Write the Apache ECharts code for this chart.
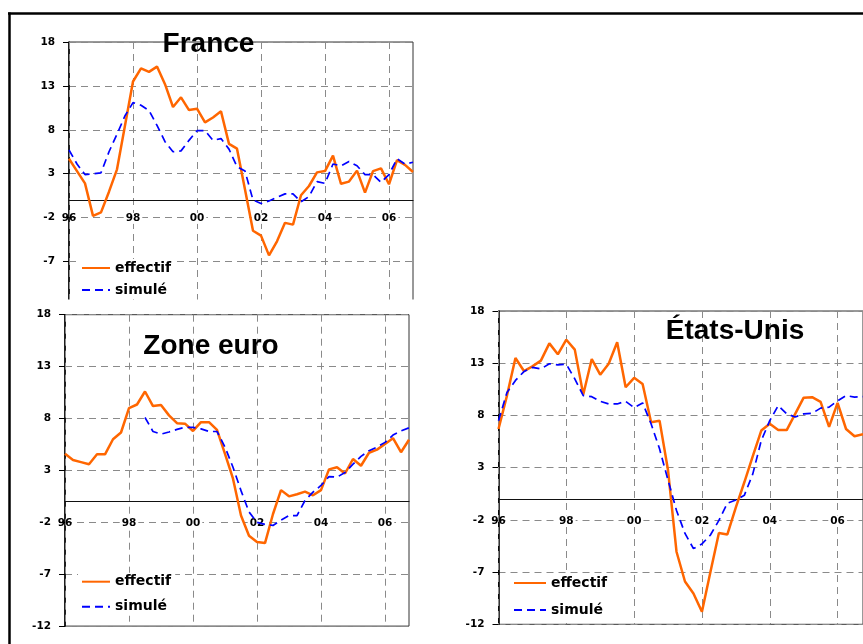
<!DOCTYPE html>
<html>
<head>
<meta charset="utf-8">
<title>Effectif et simulé</title>
<script src="https://cdn.jsdelivr.net/npm/echarts@6/dist/echarts.min.js"></script>
<style>
  html, body { margin: 0; padding: 0; background: #fff; }
  #chart { width: 863px; height: 644px; }
</style>
</head>
<body>
<div id="chart"></div>
<script>
// Quarterly categories, 1996 T1 .. 2006 T4
const years = [1996, 1997, 1998, 1999, 2000, 2001, 2002, 2003, 2004, 2005, 2006];
const quarters = [];
years.forEach(y => { for (let q = 1; q <= 4; q++) quarters.push(y + ' T' + q); });

// Year labels shown every 8 quarters
const yearTicks = ['96', '98', '00', '02', '04', '06'];

// France
const franceEffectif = [4.7, 3.3, 1.9, -1.8, -1.4, 0.95, 3.5, 8.5, 13.5, 15.0, 14.6, 15.2,
  13.2, 10.6, 11.7, 10.25, 10.4, 8.85, 9.4, 10.1, 6.4, 5.85, 1.2, -3.5,
  -4.05, -6.3, -4.7, -2.6, -2.8, 0.55, 1.6, 3.15, 3.3, 5.05, 1.85, 2.1,
  3.35, 0.85, 3.3, 3.6, 1.8, 4.55, 4.0, 3.2];
const franceSimule = [5.7, 4.1, 2.9, 3.0, 3.1, 5.5, 7.5, 9.6, 11.1, 10.8, 10.2, 8.5,
  6.65, 5.5, 5.6, 6.8, 7.9, 7.9, 6.8, 7.0, 5.8, 3.8, 3.3, 0.0,
  -0.4, -0.1, 0.3, 0.7, 0.7, -0.2, 0.4, 2.1, 1.9, 4.1, 3.9, 4.4,
  3.9, 2.9, 2.9, 2.0, 2.9, 4.7, 4.1, 4.3];

// Zone euro
const euroEffectif = [4.6, 4.0, 3.8, 3.6, 4.55, 4.55, 6.0, 6.65, 9.0, 9.35, 10.6, 9.2,
  9.3, 8.3, 7.55, 7.5, 6.8, 7.65, 7.65, 6.9, 4.6, 2.2, -1.35, -3.3,
  -3.9, -4.0, -1.2, 1.1, 0.5, 0.7, 0.95, 0.6, 1.1, 3.1, 3.3, 2.7,
  4.1, 3.45, 4.7, 5.0, 5.55, 6.1, 4.75, 5.95];
const euroSimule = [null, null, null, null, null, null, null, null, null, null, 8.1, 6.75,
  6.5, 6.7, 6.95, 7.15, 7.15, 7.0, 6.75, 6.75, 5.25, 3.3, 1.05, -1.0,
  -2.0, -2.2, -2.3, -1.8, -1.35, -1.35, 0.1, 0.9, 1.55, 2.4, 2.35, 2.8,
  3.6, 4.35, 4.9, 5.25, 5.7, 6.4, 6.8, 7.1];

// États-Unis
const usEffectif = [6.7, 9.9, 13.5, 12.25, 12.7, 13.25, 14.9, 13.85, 15.25, 14.3, 10.0, 13.4,
  11.9, 12.95, 15.0, 10.7, 11.6, 11.0, 7.35, 7.5, 2.75, -5.05, -7.9, -9.05,
  -10.8, -7.0, -3.25, -3.4, -0.8, 1.6, 4.1, 6.55, 7.2, 6.6, 6.6, 8.15,
  9.7, 9.75, 9.3, 6.9, 9.2, 6.7, 6.0, 6.2];
const usSimule = [7.5, 10.2, 11.35, 12.2, 12.6, 12.45, 12.95, 12.85, 12.9, 11.5, 9.9, 9.8,
  9.35, 9.1, 9.1, 9.35, 8.75, 9.2, 7.2, 4.8, 1.8, -1.1, -3.3, -4.75,
  -4.3, -3.45, -2.05, -0.4, -0.1, 0.35, 2.4, 5.6, 7.5, 8.95, 8.15, 7.85,
  8.15, 8.2, 8.7, 8.8, 9.4, 9.9, 9.75, 9.8];

// Y scale ticks
const yMin = -12, yMax = 18, yStep = 5;

// Year labels sit on the -2 row: margin is counted from the lower plot edge
const panels = [
  { title: 'France', eff: franceEffectif, sim: franceSimule,
    grid: { left: 69, top: 42, width: 344, height: 263.4 }, xMargin: -92.5,
    titlePos: [208.5, 44], legend: { left: 78, top: 259, gap: 8, w: 28 }, hideMin: true },
  { title: 'Zone euro', eff: euroEffectif, sim: euroSimule,
    grid: { left: 65, top: 314.7, width: 344, height: 311.4 }, xMargin: -108.5,
    titlePos: [211, 346], legend: { left: 78, top: 572.7, gap: 11, w: 28 }, hideMin: false },
  { title: 'États-Unis', eff: usEffectif, sim: usSimule,
    grid: { left: 498.5, top: 311, width: 375, height: 313.3 }, xMargin: -109,
    titlePos: [735, 331], legend: { left: 510, top: 574, gap: 13, w: 32 }, hideMin: false }
];

const tickFont = { fontFamily: 'DejaVu Sans', fontWeight: 'bold', fontSize: 10.5, color: '#000' };
const gridLine = { type: [7, 5], color: '#8a8a8a', width: 1 };

const option = {
  animation: false,
  backgroundColor: '#fff',
  grid: panels.map(p => Object.assign({ show: true, borderColor: '#333', borderWidth: 1 }, p.grid)),
  xAxis: panels.map((p, i) => ({
    type: 'category', gridIndex: i, data: quarters, boundaryGap: false,
    z: 1,
    axisLine: { onZero: true, lineStyle: { color: '#111', width: 1.2 } },
    axisTick: { show: false },
    axisLabel: {
      interval: 7, margin: p.xMargin,
      formatter: (v, idx) => {
        const t = yearTicks[Math.round(idx / 8)];
        return idx === 0 ? '{a|' + t + '}' : '{b|' + t + '}';
      },
      rich: {
        a: Object.assign({}, tickFont),
        b: Object.assign({ backgroundColor: '#fff', padding: [0, 2] }, tickFont)
      }
    },
    splitLine: { show: true, interval: 7, lineStyle: gridLine }
  })),
  yAxis: panels.map((p, i) => ({
    type: 'value', gridIndex: i, min: yMin, max: yMax, interval: yStep,
    axisLine: { show: true, lineStyle: { color: '#000', width: 1.6 } },
    axisTick: { show: true, length: 6, lineStyle: { color: '#000' } },
    axisLabel: Object.assign({ margin: 14, showMinLabel: !p.hideMin }, tickFont),
    splitLine: { show: true, lineStyle: gridLine }
  })),
  legend: panels.map(p => ({
    data: ['effectif', 'simulé'], orient: 'vertical',
    left: p.legend.left, top: p.legend.top,
    itemWidth: p.legend.w, itemHeight: 14, itemGap: p.legend.gap,
    backgroundColor: '#fff', padding: [2, 4, 2, 3],
    selectedMode: false,
    itemStyle: { opacity: 0 },
    textStyle: { fontFamily: 'DejaVu Sans', fontWeight: 'bold', fontSize: 14, color: '#000' }
  })),
  series: panels.flatMap((p, i) => [
    { type: 'line', name: 'effectif', xAxisIndex: i, yAxisIndex: i, data: p.eff,
      symbol: 'none', z: 3,
      lineStyle: { color: '#FF6600', width: 2.5 }, itemStyle: { color: '#FF6600' } },
    { type: 'line', name: 'simulé', xAxisIndex: i, yAxisIndex: i, data: p.sim,
      symbol: 'none', z: 4, connectNulls: false,
      lineStyle: { color: '#0000FF', width: 1.7, type: [8, 5] }, itemStyle: { color: '#0000FF' } }
  ]),
  graphic: [
    // outer frame (top and left edges)
    { type: 'line', z: 100, shape: { x1: 8, y1: 13.5, x2: 863, y2: 13.5 },
      style: { stroke: '#000', lineWidth: 2.5 } },
    { type: 'line', z: 100, shape: { x1: 9.5, y1: 12.5, x2: 9.5, y2: 644 },
      style: { stroke: '#000', lineWidth: 2.5 } },
    // lower edge of the France panel is hidden under the Zone euro panel
    { type: 'rect', z: 100, shape: { x: 12, y: 299.5, width: 418, height: 7.5 },
      style: { fill: '#fff' } }
  ].concat(panels.map(p => ({
    type: 'text', z: 101, x: p.titlePos[0], y: p.titlePos[1],
    style: { text: p.title, fill: '#000', font: 'bold 28px "Liberation Sans", Arial, sans-serif',
      textAlign: 'center', textVerticalAlign: 'middle', verticalAlign: 'middle' }
  })))
};

const chart = echarts.init(document.getElementById('chart'), null, { renderer: 'canvas' });
chart.setOption(option);
</script>
</body>
</html>
